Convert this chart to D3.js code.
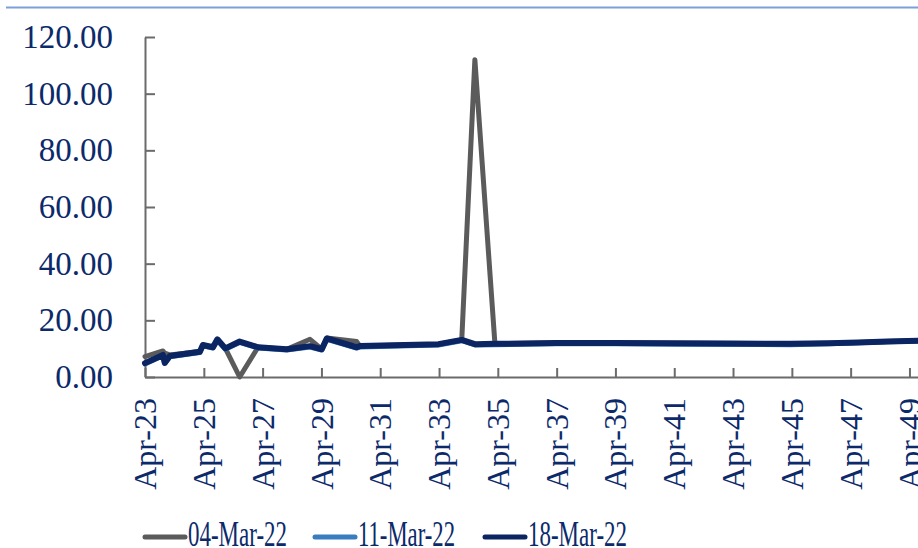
<!DOCTYPE html>
<html>
<head>
<meta charset="utf-8">
<script src="https://cdn.jsdelivr.net/npm/d3@7/dist/d3.min.js"></script>
<style>
  html, body { margin: 0; padding: 0; background: #ffffff; }
  svg { display: block; }
  text { font-family: "Liberation Serif", "Times New Roman", serif; fill: #0c2a6a; }
</style>
</head>
<body>
<svg id="chart" width="918" height="548"></svg>
<script>
// ---- data ----
const dates = ["2023-04-01","2023-11-10","2023-12-02","2024-02-03","2025-02-10","2025-03-20",
  "2025-07-23","2025-09-16","2025-12-24","2026-06-20","2027-02-03","2028-01-26","2028-11-10",
  "2029-04-05","2029-06-06","2030-06-13","2030-07-23","2033-03-25","2034-01-08","2034-06-20",
  "2035-02-24","2037-03-25","2039-03-15","2041-03-15","2043-03-15","2045-03-15","2046-07-01",
  "2047-07-01","2048-07-01","2049-07-16"];
const seriesNames = ["04-Mar-22", "11-Mar-22", "18-Mar-22"];
const mar04 = [7.2,9.2,8.4,7.8,9.0,11.3,10.5,13.0,10.1,0.0,10.5,9.8,13.3,9.8,13.8,12.5,10.9,11.6,13.1,112.0,
  11.8,12.0,12.0,11.9,11.8,11.7,11.9,12.2,12.5,12.8];
const mar11 = [4.6,7.5,4.8,7.1,8.6,11.0,10.2,13.0,9.8,12.2,10.2,9.5,10.6,9.5,13.3,10.2,10.6,11.3,12.8,11.3,
  11.4,11.7,11.7,11.6,11.5,11.4,11.7,12.1,12.4,12.7];
const mar18 = [4.9,7.8,5.0,7.4,8.9,11.3,10.5,13.3,10.1,12.5,10.5,9.8,10.9,9.8,13.6,10.5,10.9,11.6,13.1,11.6,
  11.7,12.0,12.0,11.9,11.8,11.7,11.9,12.2,12.5,12.8];
const yTicks = [0, 20, 40, 60, 80, 100, 120];
const xTickYears = [2023,2025,2027,2029,2031,2033,2035,2037,2039,2041,2043,2045,2047,2049];

const colors = ["#5b5b5b", "#3a7dbf", "#0b2563"];

// ---- setup ----
const svg = d3.select("#chart");
const parse = d3.timeParse("%Y-%m-%d");
const xDates = dates.map(parse);
const x = d3.scaleTime().domain([xDates[0], xDates[xDates.length - 1]]).range([145, 918]);
const y = d3.scaleLinear().domain([0, 120]).range([377, 37]);

// top rule
svg.append("line").attr("x1", 6).attr("x2", 918).attr("y1", 7.5).attr("y2", 7.5)
  .attr("stroke", "#7da0d8").attr("stroke-width", 2);

// y axis
const yAxis = d3.axisLeft(y).tickValues(yTicks).tickFormat(d3.format(".2f"))
  .tickSizeInner(-10).tickSizeOuter(0).tickPadding(32);
const gy = svg.append("g").attr("transform", "translate(145,0)").call(yAxis);
gy.select(".domain").attr("stroke", "#6b6b6b").attr("stroke-width", 2);
gy.selectAll(".tick line").attr("stroke", "#6b6b6b").attr("stroke-width", 2);
gy.selectAll(".tick text").attr("font-size", 33).attr("fill", "#0c2a6a")
  .style("font-family", '"Liberation Serif", serif');

// x axis
const xTickDates = xTickYears.map(yr => new Date(yr, 3, 1));
const xAxis = d3.axisBottom(x).tickValues(xTickDates).tickFormat(d3.timeFormat("Apr-%y"))
  .tickSizeInner(-9).tickSizeOuter(0).tickPadding(0);
const gx = svg.append("g").attr("transform", "translate(0,377)").call(xAxis);
gx.select(".domain").attr("stroke", "#6b6b6b").attr("stroke-width", 2);
gx.selectAll(".tick line").attr("stroke", "#6b6b6b").attr("stroke-width", 2);
gx.selectAll(".tick text")
  .attr("transform", "rotate(-90)")
  .attr("x", -21).attr("y", 0).attr("dy", "0.33em")
  .attr("text-anchor", "end")
  .attr("font-size", 32).attr("fill", "#0c2a6a")
  .style("font-family", '"Liberation Serif", serif');

// lines
const allSeries = [mar04, mar11, mar18];
const line = d3.line().x((d, i) => x(xDates[i])).y(d => y(d)).curve(d3.curveLinear);
allSeries.forEach((s, k) => {
  svg.append("path").datum(s)
    .attr("fill", "none")
    .attr("stroke", colors[k])
    .attr("stroke-width", k === 2 ? 6 : 5)
    .attr("stroke-linejoin", "round")
    .attr("stroke-linecap", "round")
    .attr("d", line);
});

// legend
const legendX = [145, 315, 485];
const legendLen = [99, 97, 99];
seriesNames.forEach((name, k) => {
  const g = svg.append("g").attr("transform", `translate(${legendX[k]},0)`);
  g.append("line").attr("x1", 0).attr("x2", 40).attr("y1", 537).attr("y2", 537)
    .attr("stroke", colors[k]).attr("stroke-width", 5).attr("stroke-linecap", "round");
  g.append("text").attr("x", 43).attr("y", 546).attr("font-size", 35)
    .attr("textLength", legendLen[k]).attr("lengthAdjust", "spacingAndGlyphs")
    .text(name);
});
</script>
</body>
</html>
